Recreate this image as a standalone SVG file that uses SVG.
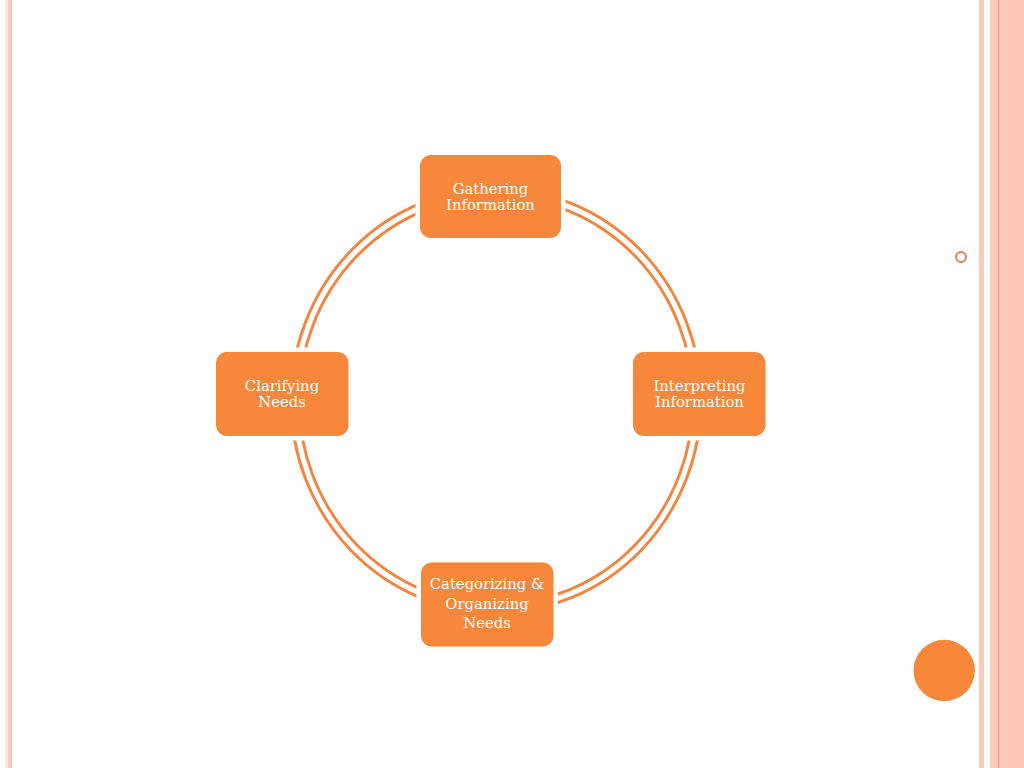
<svg xmlns="http://www.w3.org/2000/svg" width="1024" height="768" viewBox="0 0 1024 768">
  <style>
    .node { fill: #F7883B; }
    .label { fill: #FFFFFF; font-family: "DejaVu Serif", "Liberation Serif", serif; font-size: 14.8px; text-anchor: middle; }
    .ring { fill: none; stroke: #F38540; stroke-width: 2.9; }
  </style>
  <defs>
    <mask id="gapMask" maskUnits="userSpaceOnUse" x="0" y="0" width="1024" height="768">
      <rect x="0" y="0" width="1024" height="768" fill="#FFFFFF"/>
      <rect x="415.5" y="150.5" width="150" height="92" rx="15" fill="#000000"/>
      <rect x="628.5" y="347.5" width="141.5" height="93" rx="15" fill="#000000"/>
      <rect x="416.5" y="558" width="141.5" height="93" rx="15" fill="#000000"/>
      <rect x="211.5" y="347.5" width="141.5" height="93" rx="15" fill="#000000"/>
    </mask>
  </defs>
  <rect x="0" y="0" width="1024" height="768" fill="#FFFFFF"/>
  <!-- background decoration -->
  <g id="decor">
    <rect x="5" y="0" width="3" height="768" fill="#FBE6DA"/>
    <rect x="8" y="0" width="4" height="768" fill="#FDCBC1"/>
    <rect x="979" y="0" width="5" height="768" fill="#F9CABC"/>
    <rect x="990" y="0" width="18" height="768" fill="#FCCAB6"/>
    <rect x="1008" y="0" width="16" height="768" fill="#FDC8B1"/>
    <rect x="998" y="0" width="1.2" height="768" fill="#EBA080"/>
    <circle cx="961" cy="257" r="5" fill="none" stroke="#E9814C" stroke-width="2"/>
    <circle cx="944.2" cy="670.5" r="30.7" fill="#F7883A"/>
  </g>
  <g id="connectors" mask="url(#gapMask)">
    <ellipse class="ring" cx="496" cy="400.5" rx="205" ry="212"/>
    <ellipse class="ring" cx="496" cy="400.5" rx="197" ry="204"/>
  </g>
  <g id="node-gathering">
    <rect class="node" x="420" y="155" width="141" height="83" rx="11"/>
    <text class="label" x="490.5" y="194">Gathering</text>
    <text class="label" x="490.5" y="209.5">Information</text>
  </g>
  <g id="node-interpreting">
    <rect class="node" x="633" y="352" width="132.5" height="84" rx="11"/>
    <text class="label" x="699.5" y="391">Interpreting</text>
    <text class="label" x="699.5" y="406.5">Information</text>
  </g>
  <g id="node-categorizing">
    <rect class="node" x="421" y="562.5" width="132.5" height="84" rx="11"/>
    <text class="label" x="487" y="589">Categorizing &amp;</text>
    <text class="label" x="487" y="608.5">Organizing</text>
    <text class="label" x="487" y="628">Needs</text>
  </g>
  <g id="node-clarifying">
    <rect class="node" x="216" y="352" width="132.5" height="84" rx="11"/>
    <text class="label" x="282" y="391">Clarifying</text>
    <text class="label" x="282" y="406.5">Needs</text>
  </g>
</svg>
